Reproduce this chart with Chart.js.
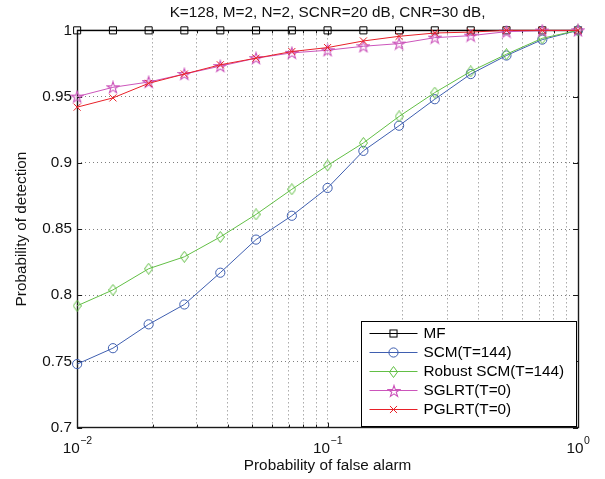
<!DOCTYPE html>
<html>
<head>
<meta charset="utf-8">
<script src="https://cdn.jsdelivr.net/npm/chart.js@4.4.0/dist/chart.umd.min.js"></script>
<style>
  html, body { margin: 0; padding: 0; background: #fff; }
  #wrap { width: 605px; height: 479px; }
</style>
</head>
<body>
<div id="wrap"><canvas id="pdChart"></canvas></div>
<script>
// false alarm probabilities (x), one point per 1/7 decade
const pfa = [0.01, 0.0139, 0.0193, 0.0268, 0.0373, 0.0518, 0.0720, 0.1, 0.139, 0.193, 0.268, 0.373, 0.518, 0.720, 1];

const pdMF = [1, 1, 1, 1, 1, 1, 1, 1, 1, 1, 1, 1, 1, 1, 1];
const pdSCM = [0.748, 0.760, 0.778, 0.793, 0.817, 0.842, 0.860, 0.881, 0.909, 0.928, 0.948, 0.967, 0.981, 0.993, 1];
const pdRobust = [0.792, 0.804, 0.820, 0.829, 0.844, 0.861, 0.880, 0.898, 0.915, 0.935, 0.953, 0.969, 0.982, 0.994, 1];
const pdSGLRT = [0.950, 0.957, 0.961, 0.967, 0.973, 0.979, 0.983, 0.985, 0.988, 0.990, 0.9945, 0.996, 0.999, 0.9998, 1];
const pdPGLRT = [0.942, 0.949, 0.960, 0.967, 0.974, 0.979, 0.984, 0.987, 0.992, 0.9955, 0.998, 0.9987, 1, 1, 1];

const seriesLabels = ['MF', 'SCM(T=144)', 'Robust SCM(T=144)', 'SGLRT(T=0)', 'PGLRT(T=0)'];
const decadeTicks = [0.01, 0.1, 1];

const FONT = '"Liberation Sans", Arial, Helvetica, sans-serif';
const FS = 15.3;
const COLORS = ['#000000', '#3f5fb0', '#62bf45', '#cc55bb', '#e82028'];

function makeMarker(w, h, draw) {
  const c = document.createElement('canvas');
  c.width = w;
  c.height = h;
  draw(c.getContext('2d'), w, h);
  return c;
}

const diamondMarker = makeMarker(9, 12, (ctx, w, h) => {
  ctx.strokeStyle = COLORS[2];
  ctx.lineWidth = 1;
  ctx.beginPath();
  ctx.moveTo(w / 2, 0.5);
  ctx.lineTo(w - 0.5, h / 2);
  ctx.lineTo(w / 2, h - 0.5);
  ctx.lineTo(0.5, h / 2);
  ctx.closePath();
  ctx.stroke();
});

const starMarker = makeMarker(14, 14, (ctx, w, h) => {
  const cx = w / 2, cy = h / 2 + 0.5, R = 6.1, r = R * 0.382;
  ctx.strokeStyle = COLORS[3];
  ctx.lineWidth = 1.1;
  ctx.beginPath();
  for (let i = 0; i < 10; i++) {
    const a = -Math.PI / 2 + i * Math.PI / 5;
    const rad = i % 2 === 0 ? R : r;
    const px = cx + rad * Math.cos(a), py = cy + rad * Math.sin(a);
    if (i === 0) ctx.moveTo(px, py); else ctx.lineTo(px, py);
  }
  ctx.closePath();
  ctx.stroke();
});

const markerStyles = ['rect', 'circle', diamondMarker, starMarker, 'crossRot'];
const markerSizes = [5, 4.6, 5, 7, 5];
const seriesData = [pdMF, pdSCM, pdRobust, pdSGLRT, pdPGLRT];

function drawMarker(ctx, style, size, color, x, y) {
  ctx.save();
  ctx.strokeStyle = color;
  ctx.lineWidth = 1;
  if (style instanceof HTMLCanvasElement) {
    ctx.drawImage(style, Math.round(x - style.width / 2), Math.round(y - style.height / 2));
  } else if (style === 'circle') {
    ctx.beginPath();
    ctx.arc(x, y, size, 0, Math.PI * 2);
    ctx.stroke();
  } else if (style === 'rect') {
    const s = size * Math.SQRT1_2;
    ctx.strokeRect(x - s, y - s, 2 * s, 2 * s);
  } else if (style === 'crossRot') {
    const s = size * Math.SQRT1_2;
    ctx.beginPath();
    ctx.moveTo(x - s, y - s); ctx.lineTo(x + s, y + s);
    ctx.moveTo(x - s, y + s); ctx.lineTo(x + s, y - s);
    ctx.stroke();
  }
  ctx.restore();
}

// axes box + inward tick marks, drawn under the data like MATLAB
const axesBox = {
  id: 'axesBox',
  beforeDatasetsDraw(chart) {
    const { ctx, chartArea: a, scales } = chart;
    ctx.save();
    ctx.strokeStyle = '#1a1a1a';
    ctx.lineWidth = 1;
    ctx.beginPath();
    scales.x.ticks.forEach(t => {
      const x = Math.round(scales.x.getPixelForValue(t.value)) + 0.5;
      const len = decadeTicks.includes(t.value) ? 5 : 3;
      ctx.moveTo(x, a.bottom); ctx.lineTo(x, a.bottom - len);
      ctx.moveTo(x, a.top); ctx.lineTo(x, a.top + len);
    });
    scales.y.ticks.forEach(t => {
      const y = Math.round(scales.y.getPixelForValue(t.value)) + 0.5;
      ctx.moveTo(a.left, y); ctx.lineTo(a.left + 5, y);
      ctx.moveTo(a.right, y); ctx.lineTo(a.right - 5, y);
    });
    ctx.stroke();
    ctx.lineWidth = 1.4;
    ctx.strokeRect(Math.round(a.left) + 0.5, Math.round(a.top) + 0.5,
      Math.round(a.right - a.left), Math.round(a.bottom - a.top));
    ctx.restore();
  }
};

// 10^k labels with raised exponents
const decadeLabels = {
  id: 'decadeLabels',
  afterDraw(chart) {
    const { ctx, chartArea: a, scales } = chart;
    ctx.save();
    ctx.fillStyle = '#111';
    ctx.textBaseline = 'alphabetic';
    ctx.textAlign = 'left';
    decadeTicks.forEach(v => {
      const exp = String(Math.round(Math.log10(v))).replace('-', '\u2212');
      const x = scales.x.getPixelForValue(v);
      ctx.font = `${FS}px ${FONT}`;
      const wBase = ctx.measureText('10').width;
      ctx.font = `10.5px ${FONT}`;
      const wExp = ctx.measureText(exp).width;
      const x0 = x - (wBase + wExp) / 2;
      ctx.font = `${FS}px ${FONT}`;
      ctx.fillText('10', x0, a.bottom + 25);
      ctx.font = `10.5px ${FONT}`;
      ctx.fillText(exp, x0 + wBase + 0.5, a.bottom + 16);
    });
    ctx.restore();
  }
};

const legendBox = {
  id: 'legendBox',
  afterDatasetsDraw(chart) {
    const { ctx, chartArea: a } = chart;
    const w = 215, h = 105, rowH = 19.1;
    const right = Math.round(a.right) - 1.5, bottom = Math.round(a.bottom) - 1.5;
    const left = right - w, top = bottom - h;
    ctx.save();
    ctx.fillStyle = '#fff';
    ctx.fillRect(left, top, w, h);
    ctx.strokeStyle = '#000';
    ctx.lineWidth = 1;
    ctx.strokeRect(left, top, w, h);
    ctx.font = `${FS}px ${FONT}`;
    ctx.textBaseline = 'middle';
    ctx.textAlign = 'left';
    chart.data.datasets.forEach((ds, i) => {
      const y = Math.round(top + 11.5 + i * rowH) + 0.5;
      ctx.strokeStyle = ds.borderColor;
      ctx.lineWidth = 1;
      ctx.beginPath();
      ctx.moveTo(left + 8, y);
      ctx.lineTo(left + 56, y);
      ctx.stroke();
      drawMarker(ctx, ds.pointStyle, ds.pointRadius, ds.borderColor, left + 32, y);
      ctx.fillStyle = '#000';
      ctx.fillText(ds.label, left + 62, y + 0.5);
    });
    ctx.restore();
  }
};

const gridColor = 'rgba(0,0,0,0.5)';

new Chart(document.getElementById('pdChart'), {
  type: 'line',
  data: {
    labels: pfa,
    datasets: seriesLabels.map((label, i) => ({
      label,
      data: pfa.map((x, k) => ({ x, y: seriesData[i][k] })),
      borderColor: COLORS[i],
      backgroundColor: 'transparent',
      borderWidth: 1,
      pointStyle: markerStyles[i],
      pointRadius: markerSizes[i],
      pointBorderWidth: 1,
      pointBorderColor: COLORS[i],
      pointBackgroundColor: 'transparent',
      tension: 0,
      clip: false,
      order: seriesLabels.length - i
    }))
  },
  options: {
    responsive: true,
    maintainAspectRatio: false,
    animation: false,
    events: [],
    layout: { padding: { top: 0, right: 27, bottom: 4, left: 0 } },
    plugins: {
      legend: { display: false },
      tooltip: { enabled: false },
      title: {
        display: true,
        fullSize: false,
        text: 'K=128, M=2, N=2, SCNR=20 dB, CNR=30 dB,',
        color: '#111',
        font: { family: FONT, size: FS, weight: 'normal' },
        padding: { top: 4, bottom: 8 }
      }
    },
    scales: {
      x: {
        type: 'logarithmic',
        min: 0.01,
        max: 1,
        afterBuildTicks: scale => {
          const vals = [];
          [0.01, 0.1].forEach(d => {
            for (let m = 1; m <= 9; m++) vals.push(+(d * m).toPrecision(3));
          });
          vals.push(1);
          scale.ticks = vals.map(value => ({ value }));
        },
        ticks: { display: false },
        grid: { color: gridColor, lineWidth: 1, drawTicks: false },
        border: { display: false, dash: [1, 3] },
        title: {
          display: true,
          text: 'Probability of false alarm',
          color: '#111',
          font: { family: FONT, size: FS },
          padding: { top: 29, bottom: 0 }
        }
      },
      y: {
        min: 0.7,
        max: 1,
        ticks: {
          stepSize: 0.05,
          padding: 5,
          color: '#111',
          font: { family: FONT, size: FS },
          callback: v => String(+v.toFixed(2))
        },
        grid: { color: gridColor, lineWidth: 1, drawTicks: false },
        border: { display: false, dash: [1, 3] },
        title: {
          display: true,
          text: 'Probability of detection',
          color: '#111',
          font: { family: FONT, size: FS },
          padding: { top: 12.5, bottom: 6.5 }
        }
      }
    }
  },
  plugins: [axesBox, legendBox, decadeLabels]
});
</script>
</body>
</html>
